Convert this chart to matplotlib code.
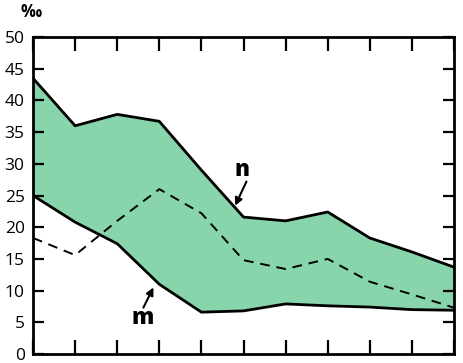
import matplotlib
matplotlib.use("Agg")
import matplotlib.pyplot as plt

# values
x_pos = list(range(11))
upper_n = [43.5, 36.0, 37.8, 36.7, 29.0, 21.6, 21.0, 22.4, 18.3, 16.1, 13.7]
lower_m = [25.0, 20.8, 17.4, 11.0, 6.6, 6.8, 7.9, 7.6, 7.4, 7.0, 6.9]
dashed = [18.3, 15.6, 21.0, 26.0, 22.2, 14.8, 13.4, 15.0, 11.4, 9.4, 7.3]
y_ticks = [0, 5, 10, 15, 20, 25, 30, 35, 40, 45, 50]

fill_color = "#88d4ab"

plt.rcParams["font.family"] = ["Open Sans", "DejaVu Sans"]

fig = plt.figure(figsize=(4.63, 3.63), dpi=100)
ax = fig.add_axes([0.0713, 0.0248, 0.9093, 0.8732])

ax.fill_between(x_pos, lower_m, upper_n, color=fill_color, linewidth=0)
ax.plot(x_pos, upper_n, color="black", linewidth=2.0)
ax.plot(x_pos, lower_m, color="black", linewidth=2.0)
ax.plot(x_pos, dashed, color="black", linewidth=1.4, dashes=(5, 3.5))

ax.set_xlim(0, 10)
ax.set_ylim(0, 50)
ax.set_xticks(x_pos)
ax.set_xticklabels([])
ax.set_yticks(y_ticks)
ax.set_yticklabels([str(v) for v in y_ticks], fontsize=12.5)

ax.tick_params(axis="x", direction="in", length=10, width=1.6, top=True, bottom=True)
ax.tick_params(axis="y", direction="in", length=8, width=1.6, left=True, right=True, pad=6)
for spine in ax.spines.values():
    spine.set_linewidth(2.0)

# labels and their arrows
ax.text(4.96, 29.0, "n", fontsize=16, fontweight="heavy", ha="center", va="center")
ax.annotate("", xy=(4.8, 23.4), xytext=(5.07, 27.2),
            arrowprops=dict(arrowstyle="-|>", color="black", lw=1.5,
                            shrinkA=0, shrinkB=0, mutation_scale=11))
ax.text(2.6, 5.6, "m", fontsize=16, fontweight="heavy", ha="center", va="center")
ax.annotate("", xy=(2.86, 10.5), xytext=(2.62, 7.3),
            arrowprops=dict(arrowstyle="-|>", color="black", lw=1.5,
                            shrinkA=0, shrinkB=0, mutation_scale=11))

fig.text(31 / 463, 1 - 12 / 363, "‰", fontsize=12, fontweight="bold",
         ha="center", va="center")

fig.savefig("out.png", dpi=100)
